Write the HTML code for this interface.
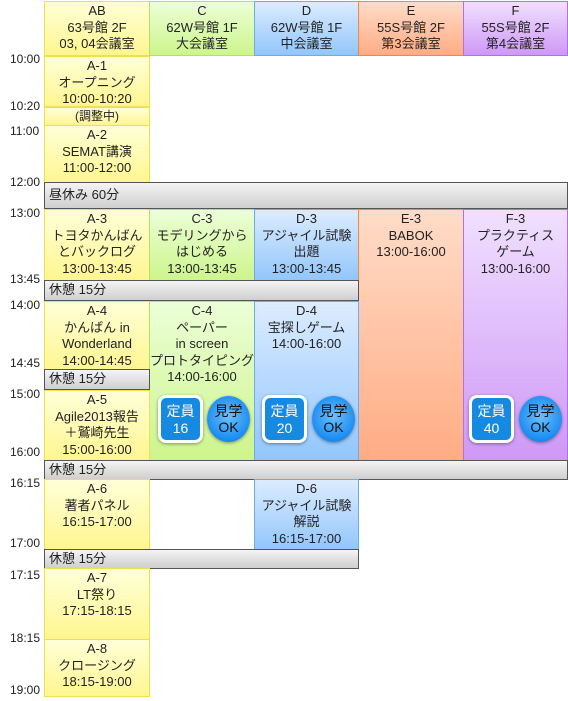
<!DOCTYPE html>
<html><head><meta charset="utf-8"><style>
body{margin:0;width:568px;height:701px;background:#fff;position:relative;overflow:hidden;font-family:"Liberation Sans","Noto Sans CJK JP",sans-serif;color:#222}
.b{position:absolute;box-sizing:border-box;text-align:center;font-size:13px;line-height:16.5px;padding-top:1px}
.y{background:linear-gradient(#ffffd8,#fff690);border:1px solid #f0e050}
.g{background:linear-gradient(#ecffd8,#cdf58c);border:1px solid #b5e060}
.bl{background:linear-gradient(#dcecff,#92c6fb);border:1px solid #6aacf0}
.o{background:linear-gradient(#ffdcc8,#ffac84);border:1px solid #f0884a}
.p{background:linear-gradient(#f0e0ff,#cf98f6);border:1px solid #b270e8}
.bar{position:absolute;box-sizing:border-box;background:linear-gradient(#f4f4f4,#cfcfcf);border:1px solid #555;font-size:13px;line-height:18px;padding-left:4px}
.t{position:absolute;left:10px;font-size:12px;color:#222}
.sq{position:absolute;width:45px;height:48px;box-sizing:border-box;border:3px solid #fff;border-radius:8px;background:#1689e0;color:#fff;font-size:14px;line-height:17px;text-align:center;padding-top:5px;box-shadow:0 1px 3px rgba(0,0,0,.4)}
.ci{position:absolute;width:43px;height:46px;border-radius:50%;background:radial-gradient(circle at 50% 45%,#6cc0ff,#1a8cf0 70%,#1070d0);color:#111;font-size:14px;line-height:16px;text-align:center;box-sizing:border-box;padding-top:7px;box-shadow:0 1px 3px rgba(0,0,0,.4)}
</style></head><body>
<div class="b y" style="left:44px;top:1px;width:106px;height:55px">AB<br>63号館 2F<br>03, 04会議室</div>
<div class="b g" style="left:149px;top:1px;width:106px;height:55px">C<br>62W号館 1F<br>大会議室</div>
<div class="b bl" style="left:254px;top:1px;width:105px;height:55px">D<br>62W号館 1F<br>中会議室</div>
<div class="b o" style="left:358px;top:1px;width:106px;height:55px">E<br>55S号館 2F<br>第3会議室</div>
<div class="b p" style="left:463px;top:1px;width:105px;height:55px">F<br>55S号館 2F<br>第4会議室</div>

<div class="t" style="top:52px">10:00</div>
<div class="t" style="top:99px">10:20</div>
<div class="t" style="top:124px">11:00</div>
<div class="t" style="top:175px">12:00</div>
<div class="t" style="top:206px">13:00</div>
<div class="t" style="top:272px">13:45</div>
<div class="t" style="top:298px">14:00</div>
<div class="t" style="top:356px">14:45</div>
<div class="t" style="top:387px">15:00</div>
<div class="t" style="top:445px">16:00</div>
<div class="t" style="top:476px">16:15</div>
<div class="t" style="top:536px">17:00</div>
<div class="t" style="top:568px">17:15</div>
<div class="t" style="top:631px">18:15</div>
<div class="t" style="top:683px">19:00</div>

<div class="b y" style="left:44px;top:56px;width:106px;height:51px">A-1<br>オープニング<br>10:00-10:20</div>
<div class="b y" style="left:44px;top:107px;width:106px;height:19px;font-size:12px;line-height:15px">(調整中)</div>
<div class="b y" style="left:44px;top:125px;width:106px;height:58px">A-2<br>SEMAT講演<br>11:00-12:00</div>
<div class="bar" style="left:44px;top:182px;width:524px;height:27px;line-height:24px">昼休み 60分</div>

<div class="b y" style="left:44px;top:209px;width:106px;height:72px">A-3<br>トヨタかんばん<br>とバックログ<br>13:00-13:45</div>
<div class="b g" style="left:149px;top:209px;width:106px;height:72px">C-3<br>モデリングから<br>はじめる<br>13:00-13:45</div>
<div class="b bl" style="left:254px;top:209px;width:105px;height:72px">D-3<br>アジャイル試験<br>出題<br>13:00-13:45</div>
<div class="b o" style="left:358px;top:209px;width:106px;height:252px">E-3<br>BABOK<br>13:00-16:00</div>
<div class="b p" style="left:463px;top:209px;width:105px;height:252px">F-3<br>プラクティス<br>ゲーム<br>13:00-16:00</div>
<div class="bar" style="left:44px;top:280px;width:315px;height:21px">休憩 15分</div>

<div class="b y" style="left:44px;top:301px;width:106px;height:70px">A-4<br>かんばん in<br>Wonderland<br>14:00-14:45</div>
<div class="b g" style="left:149px;top:301px;width:106px;height:160px">C-4<br>ペーパー<br>in screen<br>プロトタイピング<br>14:00-16:00</div>
<div class="b bl" style="left:254px;top:301px;width:105px;height:160px">D-4<br>宝探しゲーム<br>14:00-16:00</div>
<div class="bar" style="left:44px;top:369px;width:106px;height:21px">休憩 15分</div>
<div class="b y" style="left:44px;top:390px;width:106px;height:71px">A-5<br>Agile2013報告<br>＋鷲崎先生<br>15:00-16:00</div>

<div class="sq" style="left:158px;top:395px">定員<br>16</div>
<div class="ci" style="left:207px;top:396px">見学<br>OK</div>
<div class="sq" style="left:262px;top:395px">定員<br>20</div>
<div class="ci" style="left:312px;top:396px">見学<br>OK</div>
<div class="sq" style="left:469px;top:395px">定員<br>40</div>
<div class="ci" style="left:519px;top:396px">見学<br>OK</div>

<div class="bar" style="left:44px;top:460px;width:524px;height:20px">休憩 15分</div>
<div class="b y" style="left:44px;top:479px;width:106px;height:71px">A-6<br>著者パネル<br>16:15-17:00</div>
<div class="b bl" style="left:254px;top:479px;width:105px;height:71px">D-6<br>アジャイル試験<br>解説<br>16:15-17:00</div>
<div class="bar" style="left:44px;top:549px;width:315px;height:20px">休憩 15分</div>
<div class="b y" style="left:44px;top:568px;width:106px;height:72px">A-7<br>LT祭り<br>17:15-18:15</div>
<div class="b y" style="left:44px;top:639px;width:106px;height:58px">A-8<br>クロージング<br>18:15-19:00</div>
</body></html>
